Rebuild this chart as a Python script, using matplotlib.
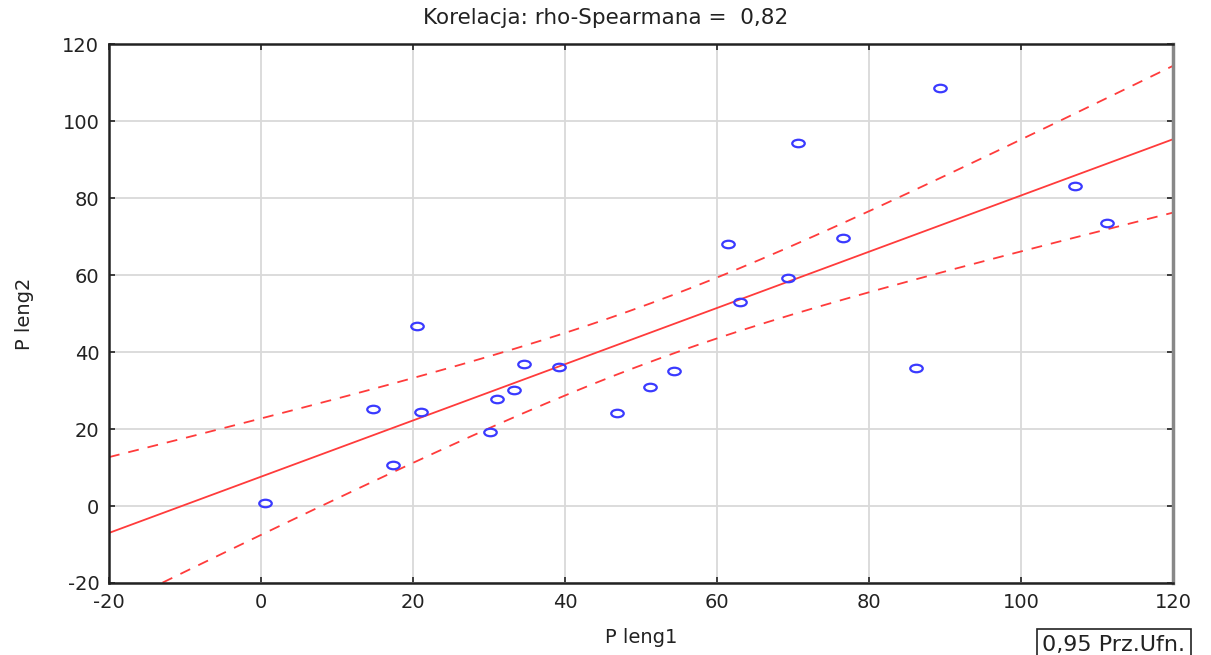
import numpy as np
import matplotlib
matplotlib.use("Agg")
import matplotlib.pyplot as plt
from matplotlib.path import Path
from matplotlib.transforms import Affine2D

plt.rcParams['font.family'] = ['DejaVu Sans']
plt.rcParams['axes.unicode_minus'] = False

# P leng1 / P leng2 measurements
leng1 = [0.5, 14.7, 17.4, 20.5, 21.1, 30.1, 31.1, 33.3, 34.6, 39.2, 46.8,
         51.2, 54.3, 61.4, 63.0, 69.3, 70.7, 76.6, 86.2, 89.3, 107.1, 111.3]
leng2 = [0.8, 25.2, 10.6, 46.8, 24.4, 19.2, 27.8, 30.1, 36.9, 36.1, 24.2,
         30.9, 35.1, 68.1, 53.0, 59.2, 94.5, 69.6, 35.8, 108.6, 83.1, 73.5]
rho_label = "0,82"
ticks = [-20, 0, 20, 40, 60, 80, 100, 120]

x = np.array(leng1)
y = np.array(leng2)
n = len(x)

# least squares line + 95% confidence band for the mean
b, a = np.polyfit(x, y, 1)
resid = y - (a + b * x)
s = np.sqrt(np.sum(resid ** 2) / (n - 2))
sxx = np.sum((x - x.mean()) ** 2)
t_crit = 2.086  # t(0.975, df=20)

xs = np.linspace(-20, 120, 300)
fit = a + b * xs
half = t_crit * s * np.sqrt(1.0 / n + (xs - x.mean()) ** 2 / sxx)

# flattened circle marker
ellipse = Path.unit_circle().transformed(Affine2D().scale(1.0, 0.6))

fig = plt.figure(figsize=(12.11, 6.55), dpi=100)
ax = fig.add_axes([0.090, 0.110, 0.8786, 0.8222])

ax.grid(True, color='#d9d9d9', linewidth=1.3)
ax.set_axisbelow(True)

red = '#ff3b3b'
ax.plot(xs, fit, color=red, linewidth=1.3)
ax.plot(xs, fit + half, color=red, linewidth=1.3, dashes=(6, 5))
ax.plot(xs, fit - half, color=red, linewidth=1.3, dashes=(6, 5))

ax.plot(x, y, linestyle='none', marker=ellipse, markersize=9,
        markerfacecolor='none', markeredgecolor='#3a3aff', markeredgewidth=1.6)

ax.set_xlim(-20, 120)
ax.set_ylim(-20, 120)
ax.set_xticks(ticks)
ax.set_yticks(ticks)
ax.tick_params(direction='in', length=4, width=1.2, labelsize=14,
               top=True, right=True, colors='#222222', pad=7)

for side in ['left', 'bottom', 'top']:
    ax.spines[side].set_linewidth(1.8)
    ax.spines[side].set_color('#222222')
ax.spines['right'].set_linewidth(2.5)
ax.spines['right'].set_color('#888888')

fig.text(0.5, 0.972, "Korelacja: rho-Spearmana =  " + rho_label,
         fontsize=15.5, ha='center', va='center', color='#222222')
ax.set_xlabel("P leng1", fontsize=14, labelpad=12, color='#222222')
ax.set_ylabel("P leng2", fontsize=14, labelpad=20, color='#222222')

fig.text(0.8605, 0.0, "0,95 Prz.Ufn.", fontsize=16, ha='left', va='bottom',
         color='#222222',
         bbox=dict(boxstyle='square,pad=0.25', facecolor='white',
                   edgecolor='#222222', linewidth=1.2))

fig.savefig("out.png", dpi=100)
